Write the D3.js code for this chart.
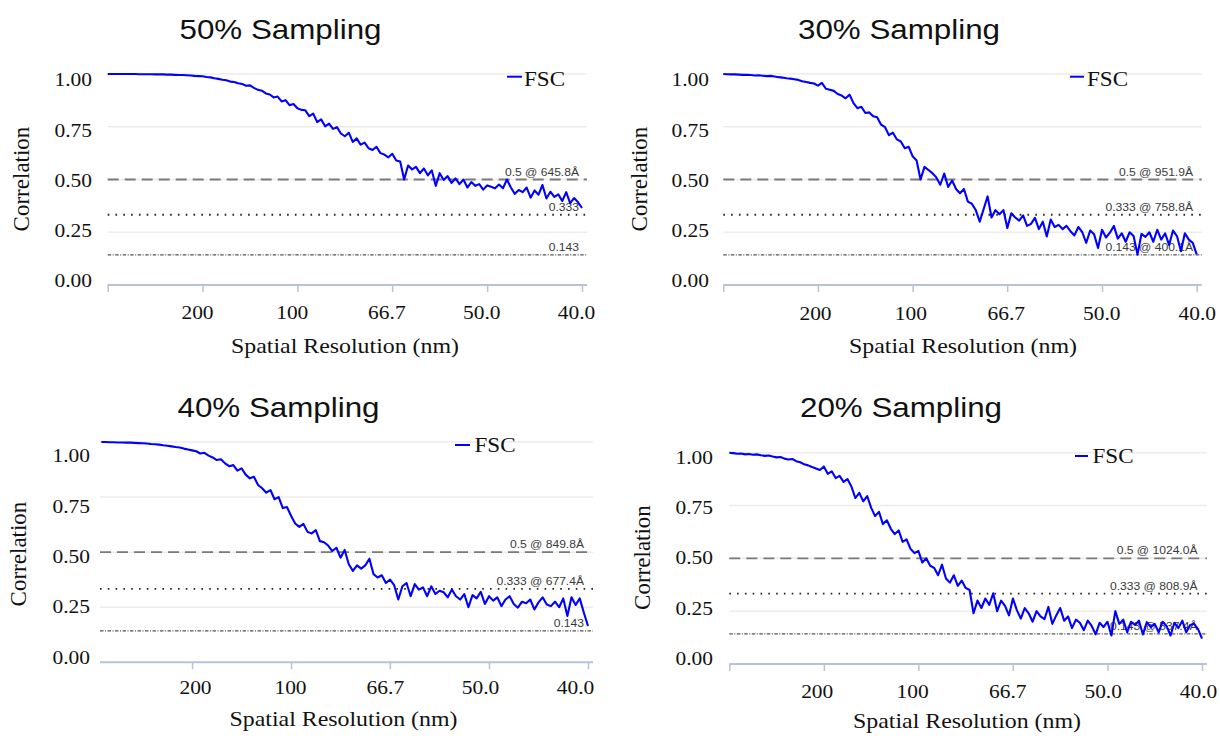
<!DOCTYPE html>
<html>
<head>
<meta charset="utf-8">
<script src="https://cdn.jsdelivr.net/npm/d3@7"></script>
<style>
  body { margin: 0; background: #fff; }
  svg { display: block; }
</style>
</head>
<body>
<svg id="chart" width="1220" height="736"></svg>
<script>
// panel titles
var titles = ["50% Sampling", "30% Sampling", "40% Sampling", "20% Sampling"];

// FSC values, one per frequency shell (shell i sits at i * 0.025/120 1/nm)
var fsc50 = [
  1.000, 1.000, 1.000, 1.000, 1.000, 1.000, 1.000, 1.000, 0.999, 0.999,
  0.999, 0.999, 0.998, 0.998, 0.998, 0.997, 0.997, 0.996, 0.995, 0.995,
  0.994, 0.993, 0.991, 0.990, 0.989, 0.986, 0.984, 0.980, 0.977, 0.973,
  0.970, 0.964, 0.962, 0.956, 0.953, 0.944, 0.946, 0.934, 0.925, 0.921,
  0.908, 0.903, 0.889, 0.893, 0.870, 0.876, 0.852, 0.858, 0.838, 0.830,
  0.828, 0.800, 0.812, 0.772, 0.785, 0.752, 0.765, 0.740, 0.748, 0.718,
  0.705, 0.722, 0.678, 0.695, 0.665, 0.675, 0.648, 0.640, 0.655, 0.625,
  0.618, 0.605, 0.622, 0.590, 0.585, 0.500, 0.566, 0.548, 0.560, 0.530,
  0.552, 0.520, 0.543, 0.470, 0.530, 0.498, 0.516, 0.484, 0.505, 0.478,
  0.500, 0.462, 0.488, 0.470, 0.478, 0.452, 0.472, 0.466, 0.458, 0.476,
  0.458, 0.500, 0.462, 0.432, 0.450, 0.440, 0.462, 0.414, 0.448, 0.428,
  0.474, 0.410, 0.442, 0.418, 0.430, 0.398, 0.440, 0.388, 0.412, 0.392,
  0.365
];
var fsc30 = [
  1.000, 0.999, 0.998, 0.998, 0.997, 0.996, 0.996, 0.995, 0.993, 0.994,
  0.992, 0.990, 0.991, 0.988, 0.985, 0.983, 0.980, 0.978, 0.975, 0.972,
  0.966, 0.962, 0.958, 0.955, 0.945, 0.958, 0.930, 0.925, 0.920, 0.905,
  0.898, 0.885, 0.902, 0.862, 0.838, 0.845, 0.815, 0.818, 0.800, 0.795,
  0.760, 0.748, 0.710, 0.722, 0.690, 0.680, 0.648, 0.655, 0.610, 0.590,
  0.500, 0.560, 0.545, 0.530, 0.510, 0.475, 0.528, 0.465, 0.495, 0.455,
  0.435, 0.455, 0.395, 0.385, 0.355, 0.300, 0.360, 0.420, 0.320, 0.355,
  0.335, 0.355, 0.270, 0.340, 0.320, 0.305, 0.330, 0.280, 0.290, 0.318,
  0.265, 0.300, 0.230, 0.310, 0.275, 0.285, 0.265, 0.280, 0.255, 0.235,
  0.275, 0.250, 0.200, 0.258, 0.240, 0.175, 0.262, 0.225, 0.248, 0.280,
  0.220, 0.245, 0.205, 0.250, 0.232, 0.145, 0.242, 0.228, 0.250, 0.205,
  0.262, 0.215, 0.245, 0.190, 0.258, 0.232, 0.160, 0.245, 0.215, 0.200,
  0.145
];
var fsc40 = [
  1.000, 1.000, 1.000, 1.000, 0.999, 0.999, 0.998, 0.998, 0.997, 0.997,
  0.996, 0.995, 0.994, 0.993, 0.991, 0.990, 0.988, 0.985, 0.983, 0.980,
  0.977, 0.975, 0.970, 0.966, 0.962, 0.958, 0.948, 0.951, 0.938, 0.930,
  0.918, 0.922, 0.903, 0.890, 0.895, 0.870, 0.880, 0.852, 0.835, 0.842,
  0.805, 0.790, 0.770, 0.782, 0.740, 0.750, 0.700, 0.705, 0.665, 0.630,
  0.615, 0.628, 0.592, 0.585, 0.600, 0.550, 0.545, 0.530, 0.505, 0.520,
  0.475, 0.510, 0.445, 0.415, 0.440, 0.425, 0.440, 0.470, 0.400, 0.385,
  0.395, 0.360, 0.375, 0.350, 0.285, 0.345, 0.360, 0.300, 0.355, 0.330,
  0.340, 0.300, 0.345, 0.310, 0.325, 0.318, 0.295, 0.330, 0.300, 0.285,
  0.310, 0.250, 0.305, 0.290, 0.320, 0.265, 0.300, 0.280, 0.295, 0.255,
  0.285, 0.300, 0.265, 0.248, 0.275, 0.268, 0.285, 0.240, 0.272, 0.295,
  0.262, 0.255, 0.275, 0.250, 0.290, 0.210, 0.295, 0.260, 0.290, 0.225,
  0.165
];
var fsc20 = [
  1.000, 0.998, 0.995, 0.996, 0.992, 0.994, 0.990, 0.992, 0.988, 0.985,
  0.987, 0.982, 0.978, 0.980, 0.972, 0.968, 0.970, 0.960, 0.955, 0.945,
  0.940, 0.932, 0.925, 0.918, 0.935, 0.900, 0.912, 0.880, 0.890, 0.862,
  0.875, 0.840, 0.785, 0.810, 0.770, 0.795, 0.740, 0.700, 0.720, 0.662,
  0.680, 0.640, 0.615, 0.632, 0.578, 0.590, 0.545, 0.525, 0.535, 0.480,
  0.500, 0.465, 0.455, 0.420, 0.470, 0.405, 0.385, 0.420, 0.370, 0.395,
  0.360, 0.350, 0.240, 0.300, 0.265, 0.310, 0.280, 0.335, 0.250, 0.300,
  0.275, 0.230, 0.310, 0.255, 0.215, 0.265, 0.240, 0.200, 0.250, 0.225,
  0.212, 0.270, 0.190, 0.230, 0.265, 0.205, 0.225, 0.170, 0.210, 0.195,
  0.160, 0.205, 0.180, 0.140, 0.195, 0.175, 0.200, 0.135, 0.250, 0.190,
  0.210, 0.150, 0.200, 0.185, 0.205, 0.140, 0.198, 0.175, 0.190, 0.150,
  0.200, 0.180, 0.135, 0.195, 0.170, 0.205, 0.150, 0.185, 0.190, 0.165,
  0.120
];
var shellStep = 0.025 / 120;

// axis ticks
var resTicks = [200, 100, 66.7, 50, 40];
var resLabels = ["200", "100", "66.7", "50.0", "40.0"];
var corrTicks = [0, 0.25, 0.5, 0.75, 1];

// threshold lines and their labels
var thresholds = [0.5, 0.333, 0.143];
var thrLabels50 = ["0.5 @ 645.8Å", "0.333", "0.143"];
var thrLabels30 = ["0.5 @ 951.9Å", "0.333 @ 758.8Å", "0.143 @ 400.1Å"];
var thrLabels40 = ["0.5 @ 849.8Å", "0.333 @ 677.4Å", "0.143"];
var thrLabels20 = ["0.5 @ 1024.0Å", "0.333 @ 808.9Å", "0.143 @ 537.4Å"];

// where each panel sits on the page
var panels = [
    { title: titles[0], data: fsc50, thr: thrLabels50, f0: 0,
      x: [107.7, 582], y: [285, 74], xl: [197, 576], yl: [280, 79.3], ylx: 92,
      titleX: 280.5, titleY: 39.3, corrX: 29.3, corrY: 179,
      xlabY: 319, axTitleX: 345, axTitleY: 352.5,
      leg: { x1: 507, x2: 522, y: 76.7, tx: 524, ty: 86 }, thrRight: 579 },
    { title: titles[1], data: fsc30, thr: thrLabels30, f0: 0,
      x: [723.3, 1196.7], y: [285, 74], xl: [815, 1196.7], yl: [280, 79.3], ylx: 709,
      titleX: 899, titleY: 39.3, corrX: 646.7, corrY: 179,
      xlabY: 320, axTitleX: 963, axTitleY: 352.5,
      leg: { x1: 1070, x2: 1084, y: 76.7, tx: 1087, ty: 86 }, thrRight: 1193 },
    { title: titles[2], data: fsc40, thr: thrLabels40, f0: 0.00035,
      x: [100, 588], y: [662.3, 442], xl: [195, 575], yl: [656.7, 455], ylx: 90,
      titleX: 278.5, titleY: 416.7, corrX: 26, corrY: 554,
      xlabY: 694, axTitleX: 343.5, axTitleY: 726,
      leg: { x1: 455, x2: 470, y: 445, tx: 474.5, ty: 451.7 }, thrRight: 584 },
    { title: titles[3], data: fsc20, thr: thrLabels20, f0: 0,
      x: [729.3, 1202], y: [664, 452.7], xl: [816.7, 1198], yl: [658, 456.7], ylx: 713,
      titleX: 901, titleY: 417.3, corrX: 650, corrY: 557.5,
      xlabY: 698, axTitleX: 967, axTitleY: 728,
      leg: { x1: 1075, x2: 1088, y: 456, tx: 1092.5, ty: 462.7 }, thrRight: 1197.5 }
];

var serif = "'Liberation Serif', 'Times New Roman', serif";
var sans = "'Liberation Sans', Arial, sans-serif";
var stretch = "scale(1.1,1)";   // the source figure is a little wider than tall
var axisColor = "#b7c3d9";
var thrStyles = [
    { color: "#7a7a7a", width: 1.8, dash: "11,6" },
    { color: "#222", width: 1.8, dash: "1.6,6.2" },
    { color: "#555", width: 1.2, dash: "3.5,1.5,1,1.5" }
];

var svg = d3.select("#chart");

panels.forEach(function (p) {
    var g = svg.append("g");

    var x = d3.scaleLinear().domain([p.f0, 0.025]).range(p.x);
    var y = d3.scaleLinear().domain([0, 1]).range(p.y);
    // the label layer of the source is slightly offset from the plot layer
    var xLab = d3.scaleLinear().domain([0.005, 0.025]).range(p.xl);
    var yLab = d3.scaleLinear().domain([0, 1]).range(p.yl);
    var xEnd = p.x[1] + 5;

    // light gridlines
    g.append("g").selectAll("line")
        .data(corrTicks.filter(function (d) { return d > 0; }))
        .join("line")
        .attr("x1", p.x[0]).attr("x2", xEnd)
        .attr("y1", function (d) { return y(d); })
        .attr("y2", function (d) { return y(d); })
        .attr("stroke", "#ececec")
        .attr("stroke-width", 1.5);

    // threshold lines
    g.append("g").selectAll("line")
        .data(thresholds)
        .join("line")
        .attr("x1", p.x[0]).attr("x2", xEnd)
        .attr("y1", function (d) { return y(d); })
        .attr("y2", function (d) { return y(d); })
        .attr("stroke", function (d, i) { return thrStyles[i].color; })
        .attr("stroke-width", function (d, i) { return thrStyles[i].width; })
        .attr("stroke-dasharray", function (d, i) { return thrStyles[i].dash; });

    // threshold labels
    g.append("g").selectAll("text")
        .data(thresholds)
        .join("text")
        .attr("transform", function (d) {
            return "translate(" + p.thrRight + "," + (y(d) - 4) + ") " + stretch;
        })
        .attr("text-anchor", "end")
        .attr("font-family", sans)
        .attr("font-size", 11)
        .attr("fill", "#3a3a3a")
        .text(function (d, i) { return p.thr[i]; });

    // x axis: baseline and tick marks
    var tickFreqs = resTicks.map(function (r) { return 1 / r; });
    var markFreqs = p.f0 === 0 ? [0].concat(tickFreqs) : tickFreqs;
    var ax = g.append("g")
        .attr("transform", "translate(0," + p.y[0] + ")")
        .call(d3.axisBottom(x).tickValues(markFreqs).tickFormat("").tickSizeInner(7).tickSizeOuter(0));
    ax.select(".domain").remove();
    ax.selectAll(".tick line").attr("stroke", axisColor).attr("stroke-width", 1.5);
    ax.append("line")
        .attr("x1", p.x[0]).attr("x2", xEnd)
        .attr("stroke", axisColor)
        .attr("stroke-width", 2);

    // x tick labels
    var xl = g.append("g")
        .attr("transform", "translate(0," + p.xlabY + ")")
        .call(d3.axisBottom(xLab).tickValues(tickFreqs)
            .tickFormat(function (d, i) { return resLabels[i]; })
            .tickSize(0).tickPadding(0));
    xl.select(".domain").remove();
    xl.attr("font-family", serif).attr("font-size", 19.5);
    xl.selectAll("text").attr("y", 0).attr("dy", 0).attr("fill", "#111").attr("transform", stretch);

    // y tick labels
    var yl = g.append("g")
        .attr("transform", "translate(" + p.ylx + ",0)")
        .call(d3.axisLeft(yLab).tickValues(corrTicks).tickFormat(d3.format(".2f"))
            .tickSize(0).tickPadding(0));
    yl.select(".domain").remove();
    yl.attr("font-family", serif).attr("font-size", 19.5);
    yl.selectAll("text").attr("x", 0).attr("dy", "0.34em").attr("fill", "#111").attr("transform", stretch);

    // FSC curve
    var pts = p.data
        .map(function (v, i) { return { f: i * shellStep, v: v }; })
        .filter(function (d) { return d.f >= p.f0; });
    var line = d3.line()
        .x(function (d) { return x(d.f); })
        .y(function (d) { return y(d.v); });
    g.append("path")
        .datum(pts)
        .attr("d", line)
        .attr("fill", "none")
        .attr("stroke", "#0000ff")
        .attr("stroke-width", 2.1)
        .attr("stroke-linejoin", "round");

    // legend
    g.append("line")
        .attr("x1", p.leg.x1).attr("x2", p.leg.x2)
        .attr("y1", p.leg.y).attr("y2", p.leg.y)
        .attr("stroke", "#0000ff")
        .attr("stroke-width", 2);
    g.append("text")
        .attr("transform", "translate(" + p.leg.tx + "," + p.leg.ty + ") " + stretch)
        .attr("font-family", serif)
        .attr("font-size", 21)
        .attr("fill", "#111")
        .text("FSC");

    // titles
    g.append("text")
        .attr("transform", "translate(" + p.titleX + "," + p.titleY + ") " + stretch)
        .attr("text-anchor", "middle")
        .attr("font-family", sans)
        .attr("font-size", 28.5)
        .attr("fill", "#111")
        .text(p.title);

    g.append("text")
        .attr("transform", "translate(" + p.corrX + "," + p.corrY + ") rotate(-90)")
        .attr("text-anchor", "middle")
        .attr("font-family", serif)
        .attr("font-size", 23)
        .attr("fill", "#111")
        .text("Correlation");

    g.append("text")
        .attr("transform", "translate(" + p.axTitleX + "," + p.axTitleY + ") " + stretch)
        .attr("text-anchor", "middle")
        .attr("font-family", serif)
        .attr("font-size", 21.7)
        .attr("fill", "#111")
        .text("Spatial Resolution (nm)");
});
</script>
</body>
</html>
